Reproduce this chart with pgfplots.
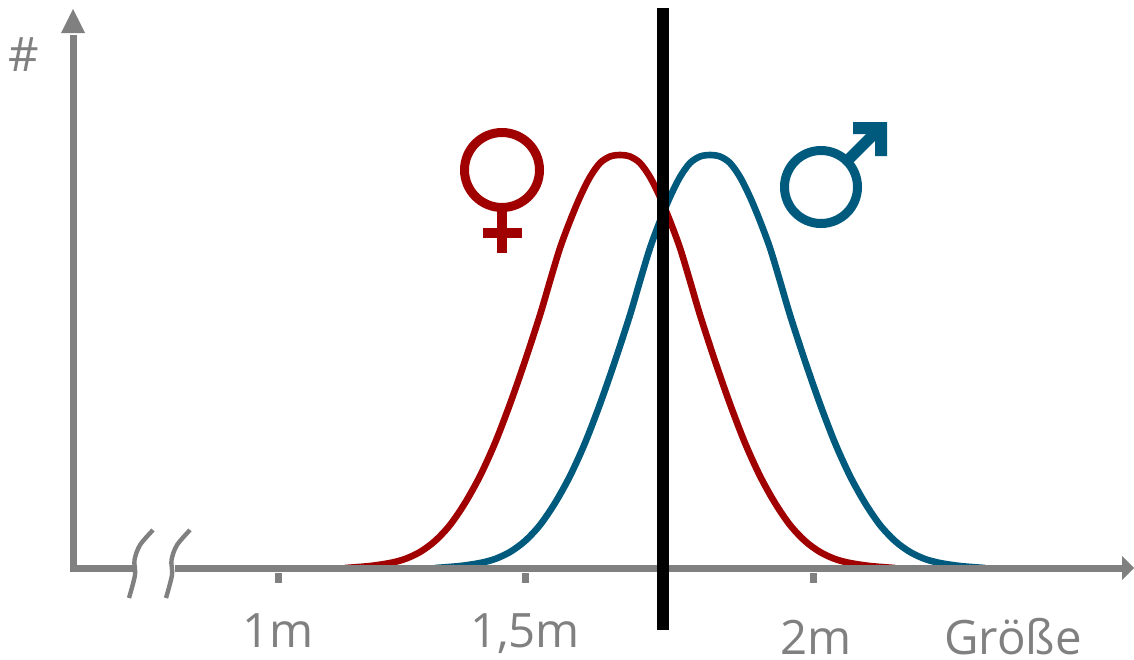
\documentclass[border=0pt]{standalone}
\usepackage{fontspec}
\setmainfont{Open Sans}
\usepackage{pgfplots}
\pgfplotsset{compat=1.18}
\definecolor{ax}{HTML}{808080}
\definecolor{fem}{HTML}{A00000}
\definecolor{mal}{HTML}{005A7D}
\begin{document}
\begin{tikzpicture}
\begin{axis}[x=0.5pt,y=0.5pt,scale only axis,hide axis,xmin=0,xmax=1134,ymin=0,ymax=659,y dir=reverse,clip=true,
 every axis plot/.append style={line cap=butt,line join=round}]
\path (axis cs:0,0) rectangle (axis cs:1134,659);
% distributions
\addplot[mal,line width=3.3pt,smooth,tension=0.5] coordinates {(435,568)(460,566)(480,563)(495,559)(510,552)(525,541)(540,525)(555,503)(570,476)(585,443)(600,404)(615,361)(630,315)(640,281)(650,248)(660,221)(670,197)(680,177)(690,163)(700,156.5)(710,155)(720,156.5)(730,163)(740,177)(750,197)(760,221)(770,248)(780,281)(790,315)(805,361)(820,404)(835,443)(850,476)(865,503)(880,525)(895,541)(910,552)(925,559)(940,563)(960,566)(985,568)};
\addplot[fem,line width=3.3pt,smooth,tension=0.5] coordinates {(345,568)(370,566)(390,563)(405,559)(420,552)(435,541)(450,525)(465,503)(480,476)(495,443)(510,404)(525,361)(540,315)(550,281)(560,248)(570,221)(580,197)(590,177)(600,163)(610,156.5)(620,155)(630,156.5)(640,163)(650,177)(660,197)(670,221)(680,248)(690,281)(700,315)(715,361)(730,404)(745,443)(760,476)(775,503)(790,525)(805,541)(820,552)(835,559)(850,563)(870,566)(895,568)};
% axes
\addplot[ax,line width=3.5pt] coordinates {(73,35)(73,571.5)};
\addplot[ax,line width=3.5pt] coordinates {(73,568)(133,568)};
\addplot[ax,line width=3.5pt] coordinates {(175,568)(1124,568)};
\addplot[ax,fill=ax,draw=none] coordinates {(73,9)(85,33)(61,33)} --cycle;
\addplot[ax,fill=ax,draw=none] coordinates {(1134,568)(1122,556)(1122,580)} --cycle;
% ticks
\addplot[ax,line width=3.5pt] coordinates {(278,573)(278,583)};
\addplot[ax,line width=3.5pt] coordinates {(525,573)(525,583)};
\addplot[ax,line width=3.5pt] coordinates {(813,573)(813,583)};
% axis break
\addplot[ax,line width=2.2pt,smooth] coordinates {(153,530)(140,545)(134.5,560)(135,575)(129,598)};
\addplot[ax,line width=2.2pt,smooth] coordinates {(190,530)(177,545)(171.5,560)(172,575)(166,598)};
% symbols
\draw[fem,line width=4.5pt] (axis cs:502,170) circle[radius=18.75pt];
\addplot[fem,line width=5pt] coordinates {(502,208)(502,253)};
\addplot[fem,line width=5pt] coordinates {(483,233)(522,233)};
\draw[mal,line width=4.5pt] (axis cs:821,187) circle[radius=18.25pt];
\addplot[mal,line width=5.5pt] coordinates {(846,162)(880,128)};
\addplot[mal,fill=mal,draw=none] coordinates {(853,122)(887,122)(887,156)(875,156)(875,134)(853,134)} --cycle;
% cut line
\addplot[black,line width=6pt] coordinates {(662.5,8)(662.5,630)};
% labels
\node[ax,anchor=base,font=\fontsize{23.7}{25}\selectfont,inner sep=0pt] at (axis cs:278,647) {1m};
\node[ax,anchor=base,font=\fontsize{23.7}{25}\selectfont,inner sep=0pt] at (axis cs:525,647) {1,5m};
\node[ax,anchor=base,font=\fontsize{23.7}{25}\selectfont,inner sep=0pt] at (axis cs:816,654) {2m};
\node[ax,anchor=base,font=\fontsize{23.7}{25}\selectfont,inner sep=0pt] at (axis cs:1013,654) {Größe};
\node[ax,anchor=base,font=\fontsize{23.7}{25}\selectfont,inner sep=0pt] at (axis cs:24,71) {\#};
\end{axis}
\end{tikzpicture}
\end{document}
